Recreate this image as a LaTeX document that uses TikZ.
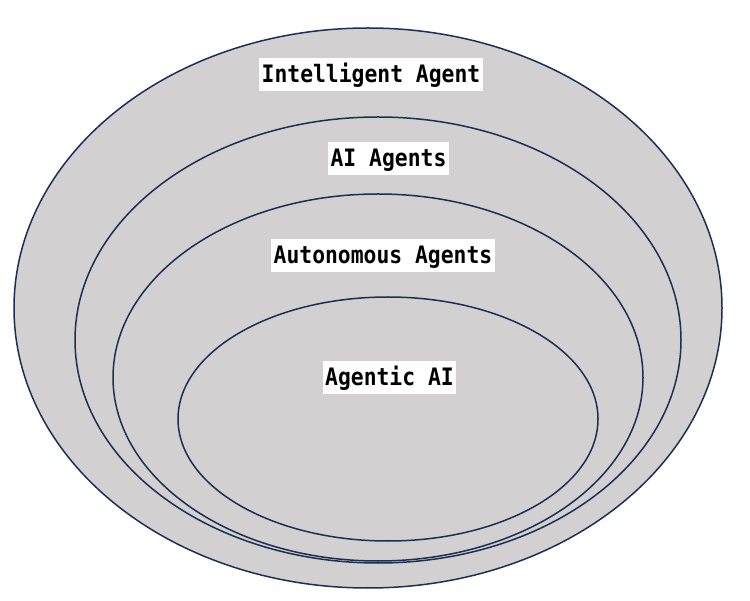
\documentclass[tikz,border=0pt]{standalone}
\usepackage{fontspec}
\usepackage{tikz}
\usetikzlibrary{
  calc,%
  positioning
}
\newfontfamily\tagfont{DejaVu Sans Mono Bold}[FakeStretch=0.89]
\definecolor{ringfill}{HTML}{D2D0D1}
\definecolor{ringline}{HTML}{1B2F55}
\tikzset{>=latex}
\tikzset{ring/.style={draw=ringline, fill=ringfill, line width=1.5pt}}
\tikzset{tag/.style={fill=white, inner xsep=2.5pt, inner ysep=5pt,
  text height=19.5pt, text depth=3.5pt,
  font=\tagfont\fontsize{24}{24}\selectfont}}

\begin{document}
\begin{tikzpicture}[x=1pt, y=-1pt]
          \useasboundingbox (0,0) rectangle (750,601);
          % rings, outside in
          \draw[ring] (368,308) ellipse [x radius=354, y radius=280];
          \draw[ring] (378,340) ellipse [x radius=303, y radius=223];
          \draw[ring] (378,377.5) ellipse [x radius=265, y radius=183.5];
          \draw[ring] (388,419) ellipse [x radius=210, y radius=122];
          % labels
          \node[tag] (intelligent) at (371,75) {Intelligent Agent};
          \node[tag] (aiagents) at (388.5,158.5) {AI Agents};
          \node[tag] (autonomous) at (383,256) {Autonomous Agents};
          \node[tag] (agentic) at (389.5,377.5) {Agentic AI};
        \end{tikzpicture}
\end{document}
